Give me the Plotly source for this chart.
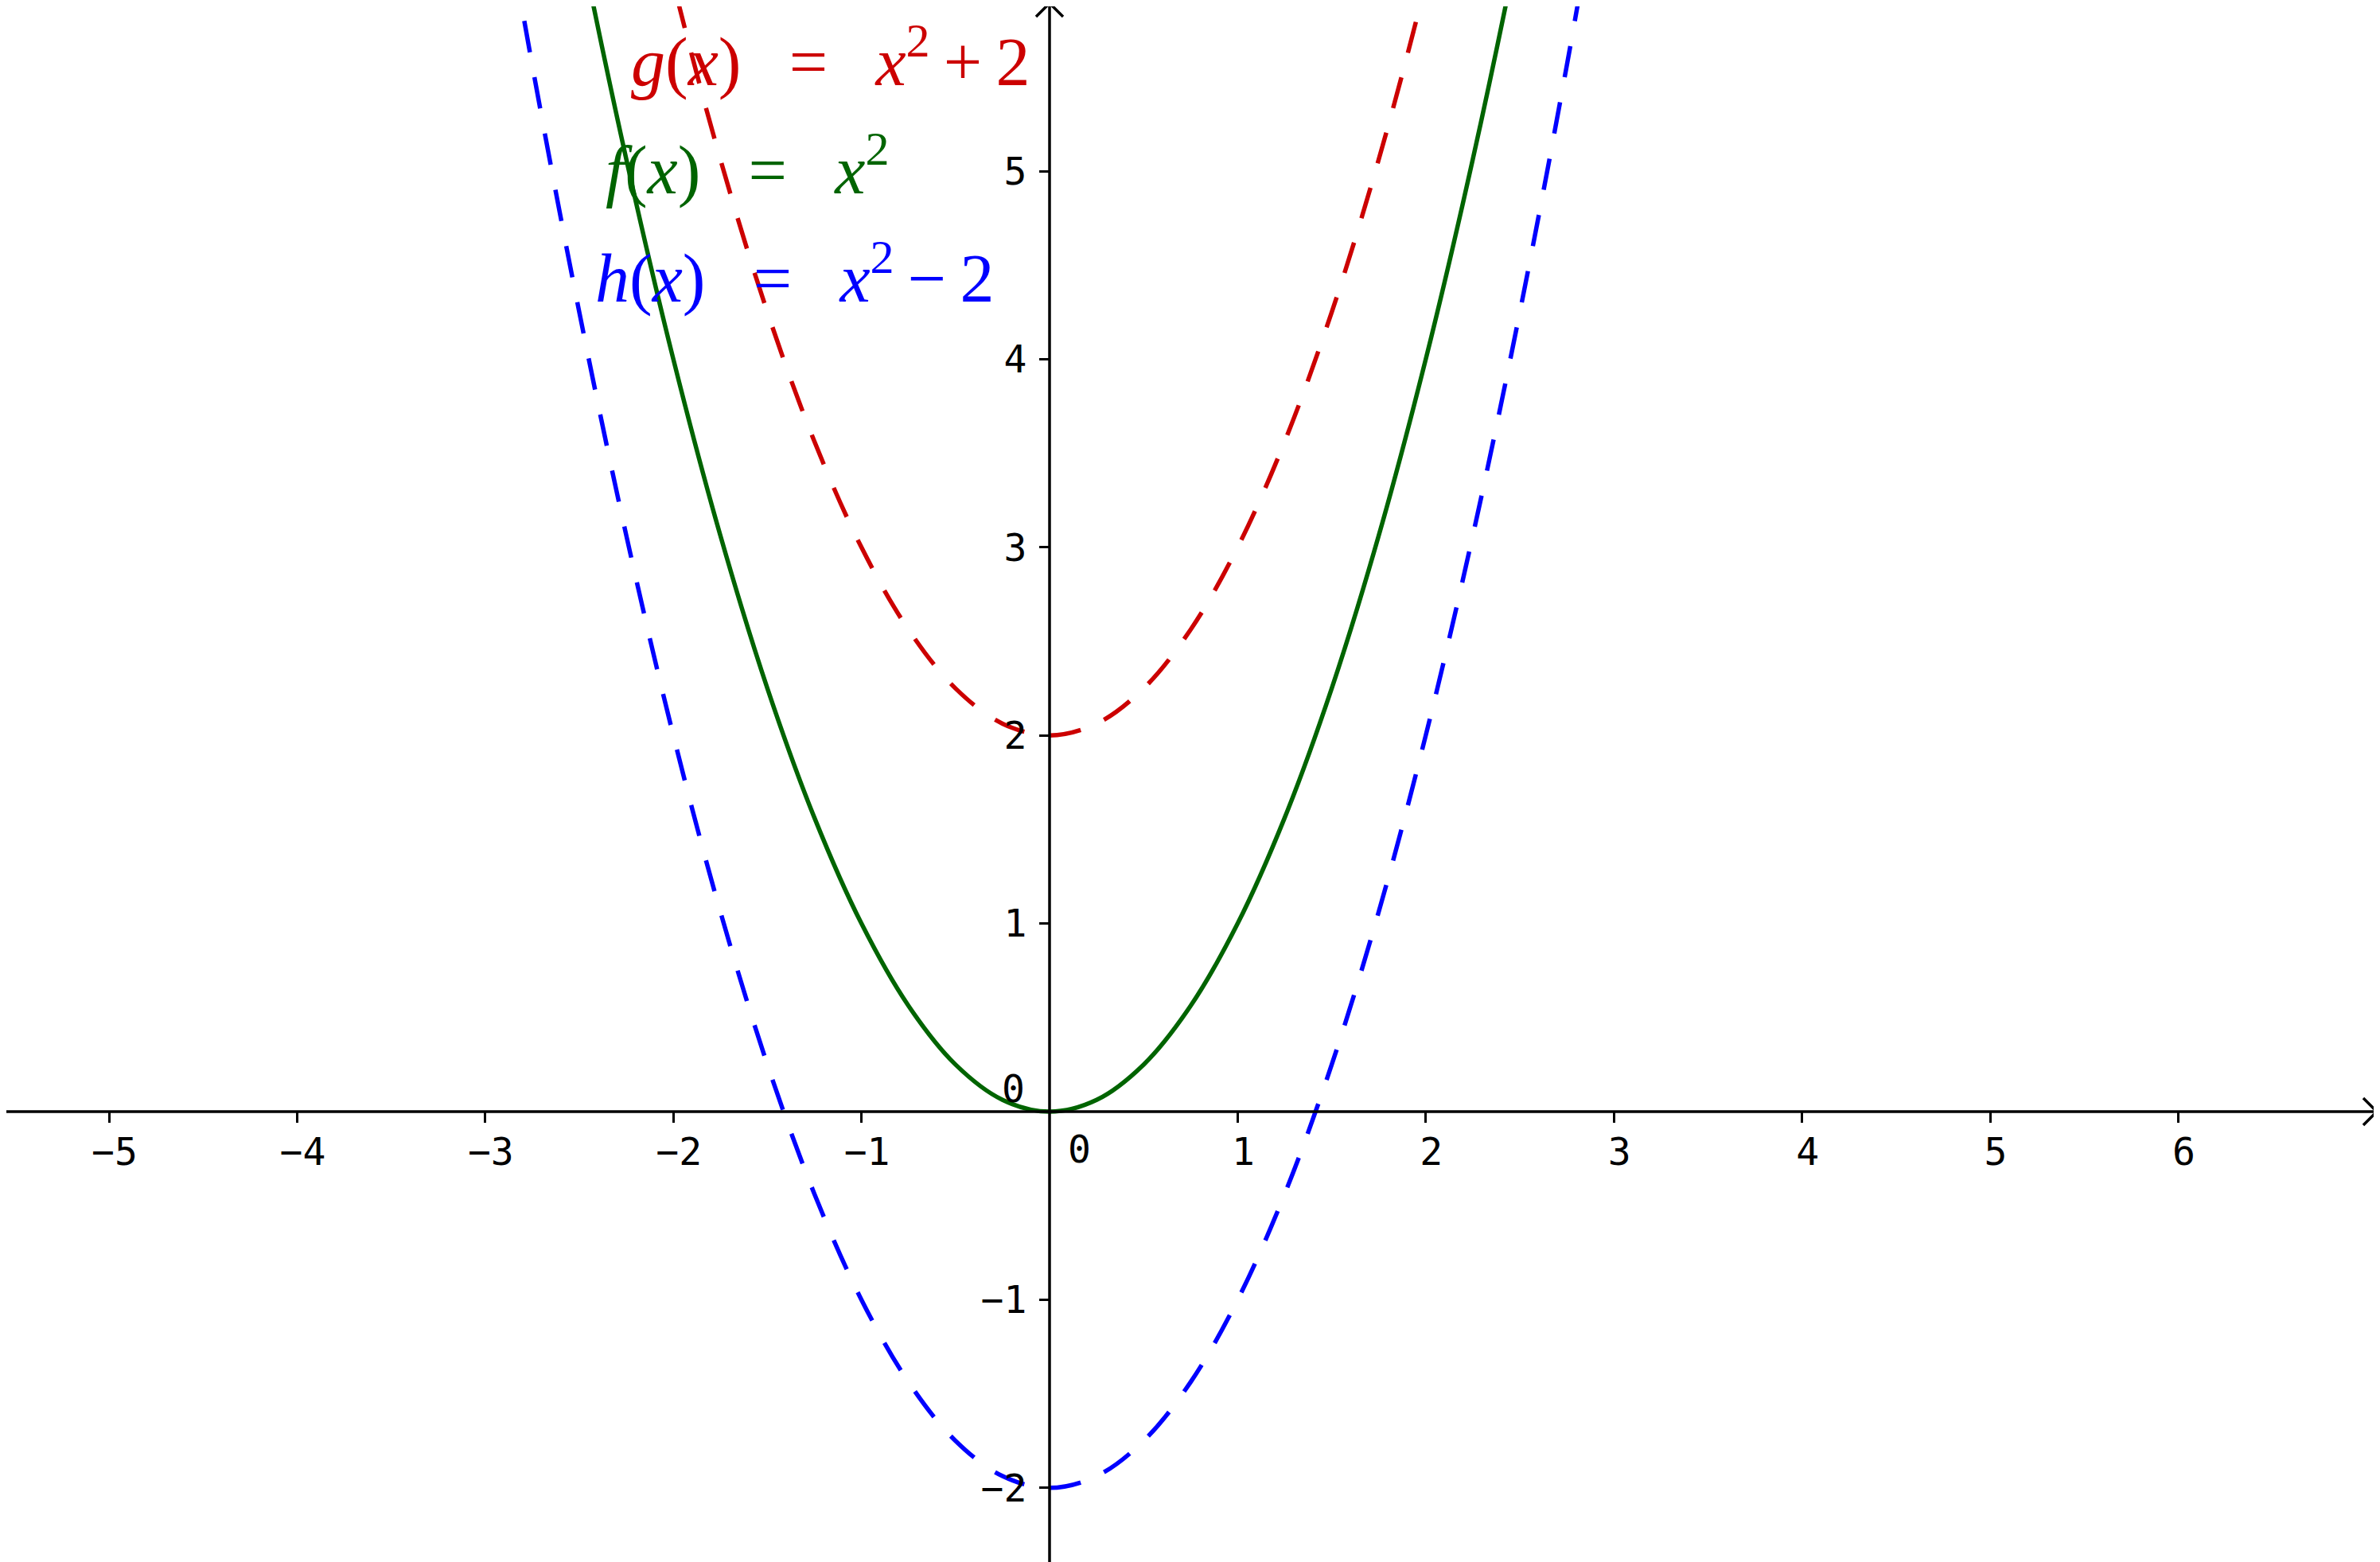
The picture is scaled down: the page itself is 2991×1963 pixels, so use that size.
import plotly.graph_objects as go

# ---- data ----
x_vals = [-3.0, -2.75, -2.5, -2.25, -2.0, -1.75, -1.5, -1.25, -1.0, -0.75, -0.5, -0.25,
          0.0, 0.25, 0.5, 0.75, 1.0, 1.25, 1.5, 1.75, 2.0, 2.25, 2.5, 2.75, 3.0]
f_vals = [9.0, 7.5625, 6.25, 5.0625, 4.0, 3.0625, 2.25, 1.5625, 1.0, 0.5625, 0.25, 0.0625,
          0.0, 0.0625, 0.25, 0.5625, 1.0, 1.5625, 2.25, 3.0625, 4.0, 5.0625, 6.25, 7.5625, 9.0]
g_vals = [11.0, 9.5625, 8.25, 7.0625, 6.0, 5.0625, 4.25, 3.5625, 3.0, 2.5625, 2.25, 2.0625,
          2.0, 2.0625, 2.25, 2.5625, 3.0, 3.5625, 4.25, 5.0625, 6.0, 7.0625, 8.25, 9.5625, 11.0]
h_vals = [7.0, 5.5625, 4.25, 3.0625, 2.0, 1.0625, 0.25, -0.4375, -1.0, -1.4375, -1.75, -1.9375,
          -2.0, -1.9375, -1.75, -1.4375, -1.0, -0.4375, 0.25, 1.0625, 2.0, 3.0625, 4.25, 5.5625, 7.0]

x_ticks = [-5, -4, -3, -2, -1, 1, 2, 3, 4, 5, 6]
x_tick_text = ["\u22125", "\u22124", "\u22123", "\u22122", "\u22121", "1", "2", "3", "4", "5", "6"]
y_ticks = [-2, -1, 1, 2, 3, 4, 5]
y_tick_text = ["\u22122", "\u22121", "1", "2", "3", "4", "5"]

W, H = 2991, 1963
OFF = 8           # page body margin
U = 236.4         # pixels per unit
OX, OY = 1319 - OFF, 1397 - OFF   # origin in figure pixels

x_range = [-OX / U, (W - OX) / U]
y_range = [-(H - OY) / U, OY / U]

RED, GREEN, BLUE = "#CC0000", "#006400", "#0000FF"


def px(v):   # viewport x pixel -> paper fraction
    return (v - OFF) / W


def py(v):   # viewport y pixel -> paper fraction
    return 1 - (v - OFF) / H


fig = go.Figure()
dash = "40px,32px"
fig.add_trace(go.Scatter(x=x_vals, y=h_vals, mode="lines",
                         line=dict(color=BLUE, width=5.5, dash=dash, shape="spline"), hoverinfo="skip"))
fig.add_trace(go.Scatter(x=x_vals, y=g_vals, mode="lines",
                         line=dict(color=RED, width=5.5, dash=dash, shape="spline"), hoverinfo="skip"))
fig.add_trace(go.Scatter(x=x_vals, y=f_vals, mode="lines",
                         line=dict(color=GREEN, width=5.5, shape="spline"), hoverinfo="skip"))

xpos = (0 - x_range[0]) / (x_range[1] - x_range[0])
ypos = (0 - y_range[0]) / (y_range[1] - y_range[0])

tick_font = dict(family="DejaVu Sans Mono", size=48, color="black")

fig.update_layout(
    width=W, height=H,
    margin=dict(l=0, r=0, t=0, b=0),
    paper_bgcolor="white", plot_bgcolor="white",
    showlegend=False,
    xaxis=dict(range=x_range, showgrid=False, zeroline=False, showline=False,
               anchor="free", position=ypos, side="bottom",
               ticks="outside", ticklen=13, tickwidth=3, tickcolor="black",
               tickvals=x_ticks, ticktext=x_tick_text, tickfont=tick_font,
               ticklabelshift=7, ticklabelstandoff=-5, fixedrange=True),
    yaxis=dict(range=y_range, showgrid=False, zeroline=False, showline=False,
               anchor="free", position=xpos, side="left",
               ticks="outside", ticklen=13, tickwidth=3, tickcolor="black",
               tickvals=y_ticks, ticktext=y_tick_text, tickfont=tick_font,
               ticklabelstandoff=6, fixedrange=True),
)

# axis lines
tip_x = px(2987)
tip_y = py(4)
fig.add_shape(type="line", xref="paper", yref="y", x0=-OFF / W, x1=tip_x, y0=0, y1=0,
              line=dict(color="black", width=3.5))
fig.add_shape(type="line", xref="x", yref="paper", x0=0, x1=0, y0=0, y1=tip_y,
              line=dict(color="black", width=3.5))
# arrow heads (pixel-sized)
fig.add_shape(type="path", xref="paper", yref="y", xsizemode="pixel", ysizemode="pixel",
              xanchor=tip_x, yanchor=0,
              path="M -17,17 L 0,0 L -17,-17", line=dict(color="black", width=3.5))
fig.add_shape(type="path", xref="x", yref="paper", xsizemode="pixel", ysizemode="pixel",
              xanchor=0, yanchor=tip_y,
              path="M -17,-17 L 0,0 L 17,-17", line=dict(color="black", width=3.5))

# origin labels
fig.add_annotation(x=px(1356), y=py(1444), xref="paper", yref="paper", text="0",
                   showarrow=False, font=tick_font, xanchor="center", yanchor="middle")
fig.add_annotation(x=px(1273), y=py(1368), xref="paper", yref="paper", text="0",
                   showarrow=False, font=tick_font, xanchor="center", yanchor="middle")

# function labels
sp = "\u2002\u2009"
lab_font = "Liberation Serif"
FS = 86
labels = [
    ("<i>g</i>(<i>x</i>)" + sp + "=" + sp + "<i>x</i><sup>2</sup>\u2009+\u20092", RED, 792, 106),
    ("<i>f</i>(<i>x</i>)" + sp + "=" + sp + "<i>x</i><sup>2</sup>", GREEN, 760, 242),
    ("<i>h</i>(<i>x</i>)" + sp + "=" + sp + "<i>x</i><sup>2</sup>\u2009\u2212\u20092", BLUE, 747, 378),
]
for txt, col, xl, base in labels:
    fig.add_annotation(x=px(xl), y=py(base + 21), xref="paper", yref="paper", text=txt,
                       showarrow=False, font=dict(family=lab_font, size=FS, color=col),
                       xanchor="left", yanchor="bottom", borderpad=0)

fig.write_html("out.html")
